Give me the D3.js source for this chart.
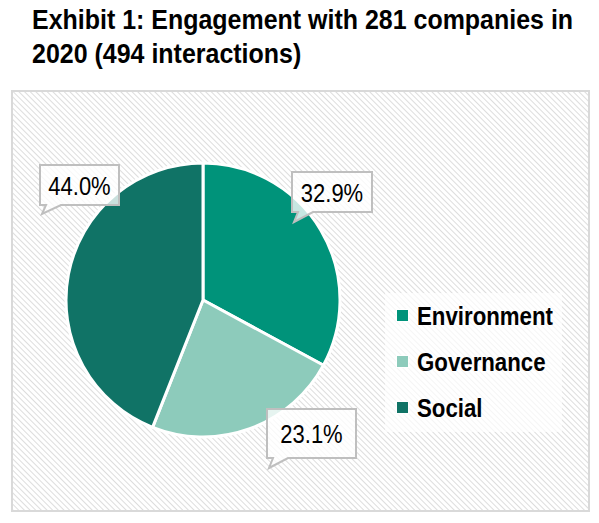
<!DOCTYPE html>
<html>
<head>
<meta charset="utf-8">
<script src="https://cdn.jsdelivr.net/npm/d3@7"></script>
<style>
  body { margin: 0; background: #fff; }
  svg text { font-family: "Liberation Sans", Arial, sans-serif; }
</style>
</head>
<body>
<svg class="chart_svg" width="599" height="523"></svg>
<script>
var categories = ["Environment", "Governance", "Social"];
var shares = [32.9, 23.1, 44.0];
var labels = ["32.9%", "23.1%", "44.0%"];
var colours = ["#00937a", "#8dcbbb", "#107366"];
var titleLines = ["Exhibit 1: Engagement with 281 companies in", "2020 (494 interactions)"];

var svg = d3.select(".chart_svg");

// the original uses a narrow face; squeeze Liberation Sans to fake it
function narrow(x, y, sx) {
    return "translate(" + x + "," + y + ") scale(" + sx + ",1)";
}

// hatch pattern for the plot area
var defs = svg.append("defs");
var pat = defs.append("pattern")
    .attr("id", "hatch")
    .attr("patternUnits", "userSpaceOnUse")
    .attr("width", 4)
    .attr("height", 4)
    .attr("patternTransform", "rotate(-45)");
pat.append("rect").attr("width", 4).attr("height", 4).attr("fill", "#ffffff");
pat.append("line")
    .attr("x1", 0).attr("y1", 0).attr("x2", 0).attr("y2", 4)
    .attr("stroke", "#d9d9d9")
    .attr("stroke-width", 1.8);

// title
svg.append("g").selectAll("text")
    .data(titleLines)
    .join("text")
    .attr("transform", function (d, i) { return narrow(32, 29 + i * 34, 0.925); })
    .style("font-size", "27px")
    .style("font-weight", "bold")
    .style("fill", "#000")
    .text(function (d) { return d; });

// frame
svg.append("rect")
    .attr("x", 12).attr("y", 91)
    .attr("width", 577).attr("height", 420)
    .attr("fill", "url(#hatch)")
    .attr("stroke", "#d9d9d9")
    .attr("stroke-width", 2);

// pie
var cx = 203, cy = 300, r = 137;
var pie = d3.pie().sort(null).value(function (d) { return d; });
var arcs = pie(shares);
var arc = d3.arc().innerRadius(0).outerRadius(r);

var pieG = svg.append("g")
    .attr("transform", "translate(" + cx + "," + cy + ")");

pieG.selectAll("path")
    .data(arcs)
    .join("path")
    .attr("d", arc)
    .attr("fill", function (d, i) { return colours[i]; })
    .attr("stroke", "#fff")
    .attr("stroke-width", 3)
    .attr("stroke-linejoin", "round");

// callouts: box plus a tail pointing down-left
var callouts = [
    { box: [292, 172, 80, 40], tip: [294, 222] },   // Environment
    { box: [267, 409, 89, 49], tip: [269, 468] },   // Governance
    { box: [40, 165, 79, 40], tip: [42, 214] }      // Social
];

var calloutG = svg.append("g");
callouts.forEach(function (c, i) {
    var bx = c.box[0], by = c.box[1], bw = c.box[2], bh = c.box[3];
    var t0 = bx + 6, t1 = bx + 21;
    var path = "M" + bx + "," + by +
        "H" + (bx + bw) + "V" + (by + bh) +
        "H" + t1 + "L" + c.tip[0] + "," + c.tip[1] +
        "L" + t0 + "," + (by + bh) +
        "H" + bx + "Z";
    calloutG.append("path")
        .attr("d", path)
        .attr("fill", "#fff")
        .attr("fill-opacity", 0.78)
        .attr("stroke", "#bfbfbf")
        .attr("stroke-width", 2);
    calloutG.append("text")
        .attr("transform", narrow(bx + bw / 2, by + bh / 2, 0.83))
        .attr("dy", ".36em")
        .attr("text-anchor", "middle")
        .style("font-size", "26.5px")
        .style("fill", "#000")
        .text(labels[i]);
});

// legend
var legG = svg.append("g");
legG.append("rect")
    .attr("x", 385).attr("y", 293)
    .attr("width", 177).attr("height", 139)
    .attr("fill", "#fff")
    .attr("fill-opacity", 0.7);

var legY = d3.scalePoint().domain(categories).range([316, 408]);
var item = legG.selectAll("g.item")
    .data(categories)
    .join("g")
    .attr("class", "item")
    .attr("transform", function (d) { return "translate(397," + legY(d) + ")"; });
item.append("rect")
    .attr("x", -1).attr("y", -7)
    .attr("width", 13).attr("height", 13)
    .attr("fill", "#fff");
item.append("rect")
    .attr("x", 0).attr("y", -6)
    .attr("width", 11).attr("height", 11)
    .attr("fill", function (d, i) { return colours[i]; });
item.append("text")
    .attr("transform", narrow(20, 0, 0.89))
    .attr("dy", ".36em")
    .style("font-size", "25px")
    .style("font-weight", "bold")
    .style("fill", "#000")
    .text(function (d) { return d; });
</script>
</body>
</html>
